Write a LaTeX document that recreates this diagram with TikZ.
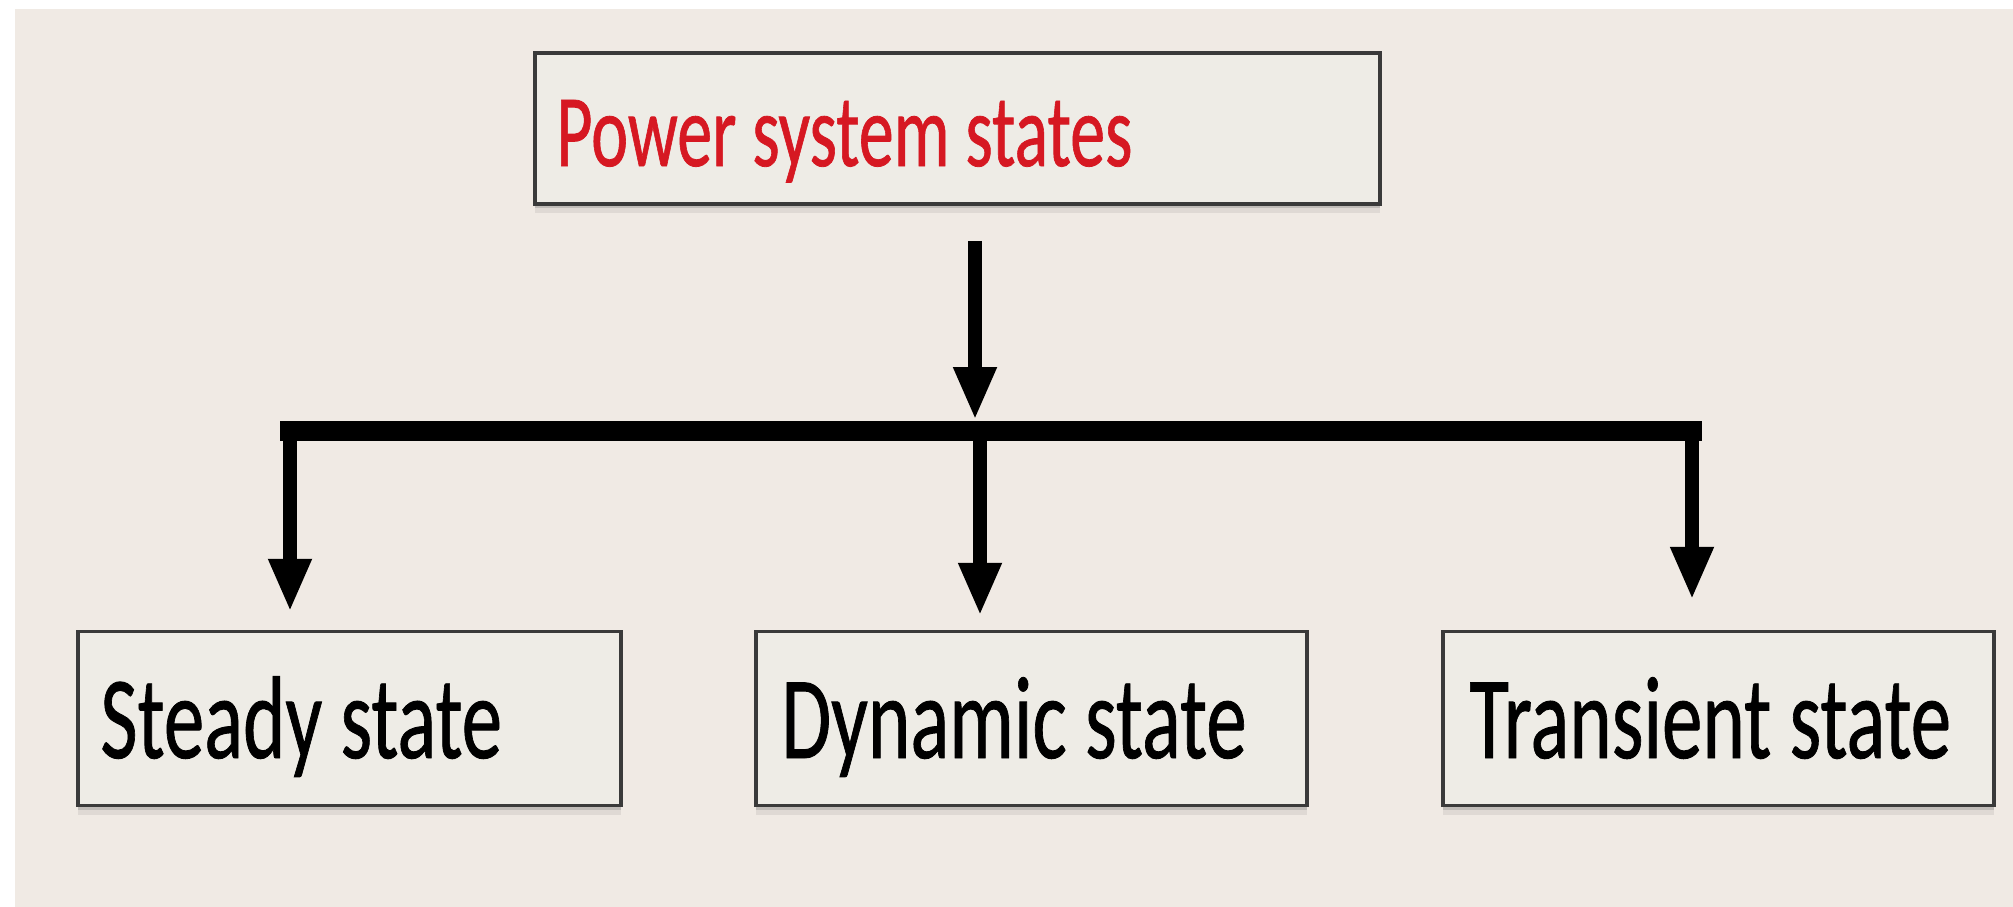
\documentclass[tikz,border=0pt]{standalone}
\usepackage{fontspec}
\setmainfont{Carlito}
\newfontfamily\statefont[FakeBold=0.8]{Carlito}
\usetikzlibrary{arrows.meta,shadows,calc}
\definecolor{bg}{RGB}{240,234,228}
\definecolor{boxfill}{RGB}{238,236,230}
\definecolor{boxline}{RGB}{58,58,58}
\definecolor{titlered}{RGB}{214,24,34}
\begin{document}
\begin{tikzpicture}[x=0.5bp,y=-0.5bp,
  statebox/.style={draw=boxline, line width=1.75bp, fill=boxfill, inner sep=0pt,
    drop shadow={shadow xshift=0pt, shadow yshift=-2bp, opacity=0.25, fill=black!60},
    drop shadow={shadow xshift=0pt, shadow yshift=-4.5bp, opacity=0.12, fill=black!60}},
  bigtext/.style={anchor=base west, inner sep=0pt, font=\statefont\fontsize{40.5bp}{41bp}\selectfont},
  titletext/.style={anchor=base west, inner sep=0pt, text=titlered, font=\statefont\fontsize{35bp}{36bp}\selectfont},
  conn/.style={line width=7bp, -{Triangle[width=20bp, length=26.5bp]}},
  bus/.style={line width=10bp, line cap=rect}]
\useasboundingbox (0,0) rectangle (2013,906);
\fill[white] (-50,-50) rectangle (2100,1000);
\fill[bg] (15,9) rectangle (2100,1000);

% boxes
\node[statebox, minimum width=422.5bp, minimum height=75.5bp] (top) at (957.5,128.5) {};
\node[statebox, minimum width=271.5bp, minimum height=87bp] (steady) at (349.5,718.5) {};
\node[statebox, minimum width=275.5bp, minimum height=87bp] (dyn) at (1031.5,718.5) {};
\node[statebox, minimum width=275.5bp, minimum height=87bp] (trans) at (1718.5,718.5) {};

% texts
\node[titletext] (ttop) at (556,166) {\scalebox{1}[1.47]{Power system states}};
\node[bigtext] (tsteady) at (100,758) {\scalebox{1}[1.45]{Steady state}};
\node[bigtext] (tdyn) at (781,758) {\scalebox{1}[1.45]{Dynamic state}};
\node[bigtext] (ttrans) at (1469,758) {\scalebox{1}[1.45]{Transient state}};

% bus coordinates
\coordinate (j) at (975,431);
\coordinate (cl) at (290,431);
\coordinate (cm) at (980,431);
\coordinate (cr) at (1692,431);

% connectors
\draw[bus] (cl) -- (cr);
\draw[conn, shorten <=17.5bp, shorten >=5.5bp] (top.south -| j) -- (j);
\draw[conn, shorten >=9bp] (cl) -- (steady.north -| cl);
\draw[conn, shorten >=7bp] (cm) -- (dyn.north -| cm);
\draw[conn, shorten >=15bp] (cr) -- (trans.north -| cr);
\end{tikzpicture}
\end{document}
